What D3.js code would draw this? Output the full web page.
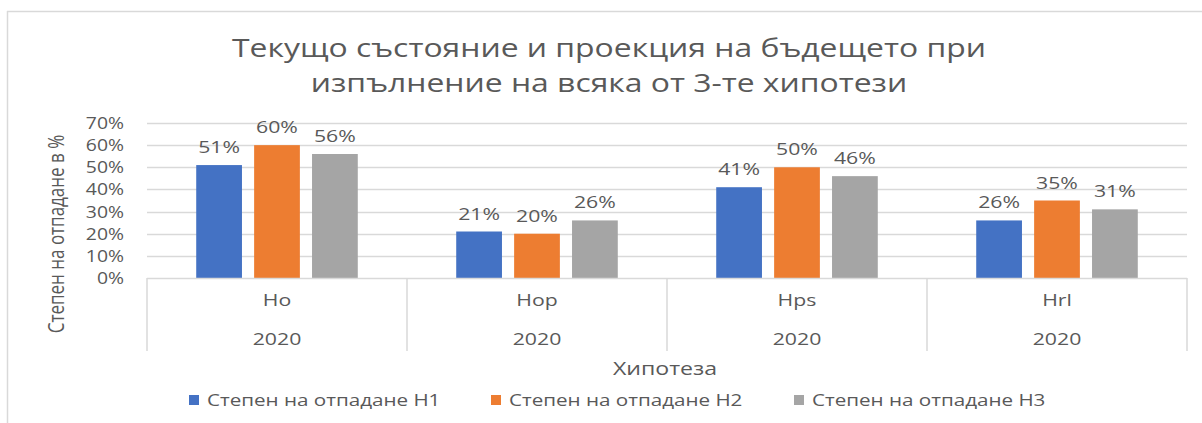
<!DOCTYPE html>
<html>
  <head>
    <meta charset="utf-8">
    <script src="https://d3js.org/d3.v7.min.js"></script>
    <style>
      body { margin: 0; background: #fff; }
      text { font-family: "Open Sans", "Noto Sans", sans-serif; fill: #595959; }
    </style>
  </head>
  <body>
    <svg width="1202" height="423"></svg>
  </body>
  <script>
    var hypotheses = ["Ho", "Hop", "Hps", "Hrl"];
    var years = ["2020", "2020", "2020", "2020"];
    var seriesNames = ["Степен на отпадане H1", "Степен на отпадане H2", "Степен на отпадане H3"];
    var h1 = [51, 21, 41, 26];
    var h2 = [60, 20, 50, 35];
    var h3 = [56, 26, 46, 31];
    var yTicks = [0, 10, 20, 30, 40, 50, 60, 70];
    var colors = ["#4472C4", "#ED7D31", "#A5A5A5"];

    var svg = d3.select("svg");
    var SX = 1.25; // the reference text looks wide, stretch it sideways

    // put a text at (x,y) and stretch it horizontally about that point
    function wide(sel, x, y) {
      sel.attr("x", 0).attr("y", 0)
        .attr("transform", function(d, i) {
          var px = typeof x === "function" ? x(d, i) : x;
          var py = typeof y === "function" ? y(d, i) : y;
          return "translate(" + px + "," + py + ") scale(" + SX + ",1)";
        });
      return sel;
    }

    // chart frame (only top & left edges visible in the crop)
    svg.append("line").attr("x1", 7).attr("x2", 1202).attr("y1", 11.5).attr("y2", 11.5)
      .attr("stroke", "#d9d9d9").attr("stroke-width", 1.5);
    svg.append("line").attr("x1", 7.5).attr("x2", 7.5).attr("y1", 11).attr("y2", 423)
      .attr("stroke", "#d9d9d9").attr("stroke-width", 1.5);

    var plotLeft = 147, plotRight = 1187, plotTop = 123, plotBottom = 278;

    var x = d3.scaleBand().domain(hypotheses).range([plotLeft, plotRight]);
    var x1 = d3.scaleBand().domain([0, 1, 2]).range([0, x.bandwidth()]).paddingInner(0.21).paddingOuter(0.85);
    var y = d3.scaleLinear().domain([0, 70]).range([plotBottom, plotTop]);

    // gridlines
    svg.append("g").selectAll("line").data(yTicks.slice(1)).enter().append("line")
      .attr("x1", plotLeft).attr("x2", plotRight)
      .attr("y1", function(d) { return Math.round(y(d)) + 0.5; })
      .attr("y2", function(d) { return Math.round(y(d)) + 0.5; })
      .attr("stroke", "#d9d9d9").attr("stroke-width", 1.5);

    // y axis labels
    var yAxis = d3.axisLeft(y).tickValues(yTicks).tickSize(0).tickPadding(0)
      .tickFormat(function(d) { return d + "%"; });
    var ya = svg.append("g").attr("transform", "translate(124,0)").call(yAxis);
    ya.select(".domain").remove();
    ya.selectAll(".tick text")
      .style("font-size", "15.5px").style("font-family", "'Open Sans', sans-serif")
      .attr("fill", "#595959").attr("dy", "0.35em")
      .attr("x", 0).attr("transform", "scale(" + SX + ",1)");

    // bars
    var series = [h1, h2, h3];
    series.forEach(function(vals, s) {
      svg.append("g").selectAll("rect").data(vals).enter().append("rect")
        .attr("x", function(d, i) { return x(hypotheses[i]) + x1(s); })
        .attr("width", x1.bandwidth())
        .attr("y", function(d) { return y(d); })
        .attr("height", function(d) { return plotBottom - y(d); })
        .attr("fill", colors[s]);
      var lab = svg.append("g").selectAll("text").data(vals).enter().append("text")
        .attr("text-anchor", "middle")
        .style("font-size", "17px")
        .text(function(d) { return d + "%"; });
      wide(lab, function(d, i) { return x(hypotheses[i]) + x1(s) + x1.bandwidth() / 2; },
        function(d) { return y(d) - 12; });
    });

    // category axis box
    svg.append("line").attr("x1", plotLeft).attr("x2", plotRight).attr("y1", plotBottom + 0.5).attr("y2", plotBottom + 0.5)
      .attr("stroke", "#d9d9d9").attr("stroke-width", 1.5);
    var bounds = hypotheses.map(function(h) { return x(h); }).concat([plotRight]);
    svg.append("g").selectAll("line").data(bounds).enter().append("line")
      .attr("x1", function(d) { return d; }).attr("x2", function(d) { return d; })
      .attr("y1", plotBottom).attr("y2", 351)
      .attr("stroke", "#d9d9d9").attr("stroke-width", 1.5);

    var cat = svg.append("g").selectAll("text").data(hypotheses).enter().append("text")
      .attr("text-anchor", "middle").style("font-size", "17px")
      .text(function(d) { return d; });
    wide(cat, function(d) { return x(d) + x.bandwidth() / 2; }, 306);
    var yr = svg.append("g").selectAll("text").data(years).enter().append("text")
      .attr("text-anchor", "middle").style("font-size", "17px")
      .text(function(d) { return d; });
    wide(yr, function(d, i) { return x(hypotheses[i]) + x.bandwidth() / 2; }, 345);

    // axis titles
    wide(svg.append("text").attr("text-anchor", "middle").style("font-size", "18.5px").text("Хипотеза"), 665, 375);
    svg.append("text").attr("transform", "translate(64,234) rotate(-90) scale(1,1.25)")
      .attr("text-anchor", "middle").style("font-size", "17px").text("Степен на отпадане в %");

    // title
    wide(svg.append("text").attr("text-anchor", "middle").style("font-size", "25.5px")
      .text("Текущо състояние и проекция на бъдещето при"), 609, 57);
    wide(svg.append("text").attr("text-anchor", "middle").style("font-size", "25.5px")
      .text("изпълнение на всяка от 3-те хипотези"), 609, 92);

    // legend
    var legendX = [189, 491, 794];
    var lg = svg.append("g").selectAll("g").data(seriesNames).enter().append("g")
      .attr("transform", function(d, i) { return "translate(" + legendX[i] + ",395)"; });
    lg.append("rect").attr("width", 10).attr("height", 10).attr("fill", function(d, i) { return colors[i]; });
    wide(lg.append("text").style("font-size", "16.5px").text(function(d) { return d; }), 18, 11);
  </script>
</html>
